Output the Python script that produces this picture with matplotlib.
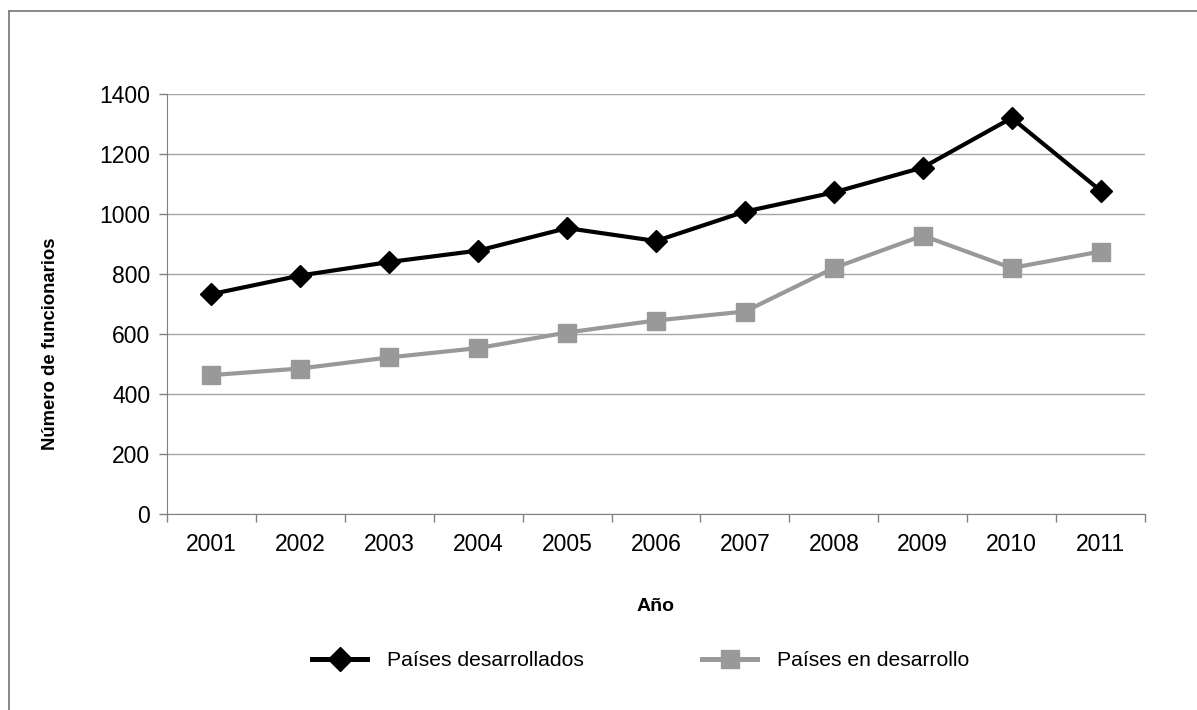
import matplotlib
matplotlib.use("Agg")
import matplotlib.pyplot as plt
from matplotlib.lines import Line2D

years = ["2001", "2002", "2003", "2004", "2005", "2006", "2007", "2008", "2009", "2010", "2011"]
desarrollados = [733, 795, 840, 878, 953, 910, 1008, 1072, 1155, 1320, 1078]
en_desarrollo = [463, 485, 522, 553, 605, 645, 675, 820, 928, 820, 875]
yticks = [0, 200, 400, 600, 800, 1000, 1200, 1400]

plt.rcParams['font.family'] = ['Liberation Sans', 'DejaVu Sans']

W, H = 1197, 710
fig = plt.figure(figsize=(W / 100, H / 100), dpi=100)
# outer chart border (only top and left edges visible in the image)
fig.add_artist(Line2D([9 / W, 1.0], [1 - 10.5 / H, 1 - 10.5 / H], transform=fig.transFigure,
                      color='#808080', linewidth=1.3))
fig.add_artist(Line2D([9 / W, 9 / W], [0.0, 1 - 10.5 / H], transform=fig.transFigure,
                      color='#808080', linewidth=1.3))

ax = fig.add_axes([167 / W, 1 - 514 / H, (1145 - 167) / W, (514 - 94) / H])
x = list(range(len(years)))
ax.plot(x, desarrollados, color='black', linewidth=3, marker='D', markersize=11.5,
        label='Países desarrollados', clip_on=False, zorder=4)
ax.plot(x, en_desarrollo, color='#999999', linewidth=3, marker='s', markersize=12.5,
        label='Países en desarrollo', clip_on=False, zorder=3)

ax.set_xlim(-0.5, len(years) - 0.5)
ax.set_ylim(0, 1400)
ax.set_yticks(yticks)
ax.set_yticklabels([str(v) for v in yticks])
ax.set_xticks(x)
ax.set_xticklabels(years)
ax.set_xticks([i - 0.5 for i in range(len(years) + 1)], minor=True)
ax.tick_params(axis='x', which='major', length=0, pad=14, labelsize=16.5)
ax.tick_params(axis='x', which='minor', length=6, color='#808080', width=1)
ax.tick_params(axis='y', length=6, color='#808080', width=1, labelsize=16.5, pad=6)
ax.grid(axis='y', color='#a6a6a6', linewidth=1)
ax.set_axisbelow(True)
for s in ['top', 'right']:
    ax.spines[s].set_visible(False)
ax.spines['left'].set_color('#808080')
ax.spines['bottom'].set_color('#808080')

ax.set_xlabel('Año', fontsize=14, fontweight='bold', labelpad=30)
fig.text(51 / W, 1 - 344 / H, 'Número de funcionarios', rotation=90, fontsize=13.3,
         fontweight='bold', ha='center', va='center')

handles = [
    Line2D([], [], color='black', linewidth=3.6, marker='D', markersize=12),
    Line2D([], [], color='#999999', linewidth=3.6, marker='s', markersize=13),
]
labels = ['Países desarrollados', 'Países en desarrollo']
leg = fig.legend(handles, labels, loc='center', bbox_to_anchor=(641 / W, 1 - 661 / H), ncol=2,
                 frameon=False, fontsize=15.2, handlelength=2.6, columnspacing=5.6,
                 handletextpad=0.95)

fig.savefig('out.png', dpi=100)
